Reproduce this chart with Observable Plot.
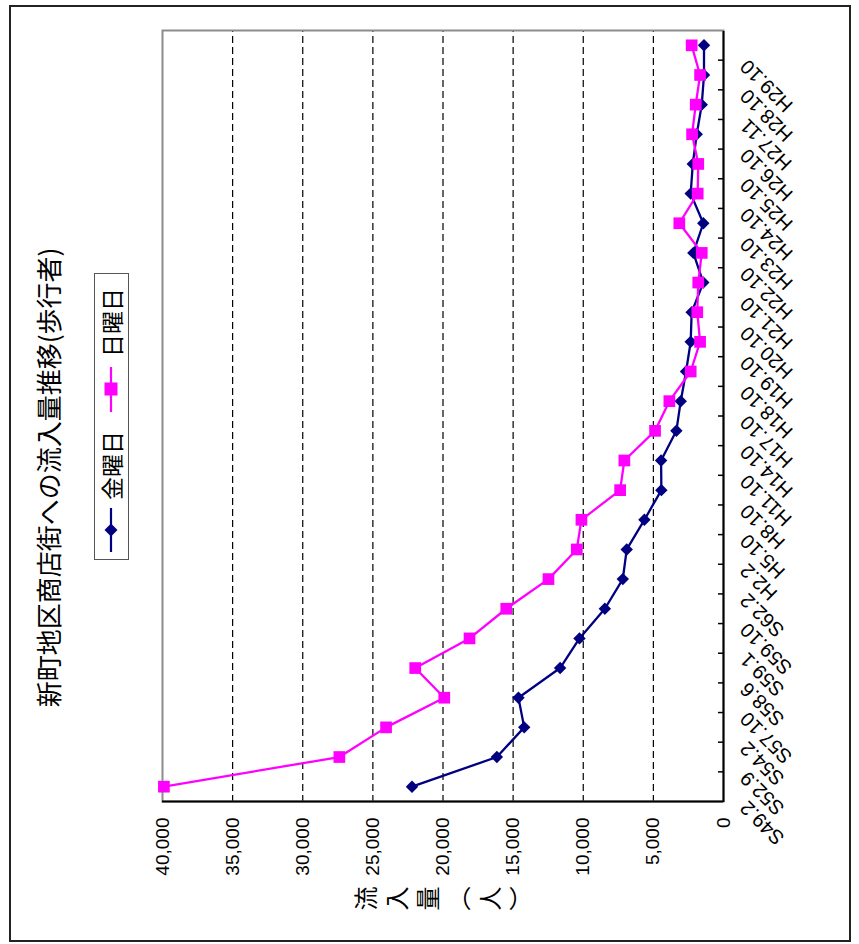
<!DOCTYPE html>
<html>
<head>
<meta charset="utf-8">
<script src="https://cdn.jsdelivr.net/npm/d3@7"></script>
<script src="https://cdn.jsdelivr.net/npm/@observablehq/plot@0.6"></script>
<style>
html, body { margin: 0; padding: 0; overflow: hidden; background: #fff; width: 859px; height: 944px; }
#stage { position: absolute; left: 0; top: 0; width: 944px; height: 859px; transform-origin: 0 0;
  transform: translate(0px, 944px) rotate(-90deg); background: #fff; color: #000;
  font-family: "Liberation Sans", "Noto Sans CJK JP", sans-serif; }
#chart { position: absolute; left: 0; top: 0; }
#border { position: absolute; left: 2px; top: 9px; width: 937px; height: 842px; box-sizing: border-box; border: 2px solid #222; pointer-events: none; }
#title { position: absolute; left: 0; top: 35px; width: 933px; text-align: center; font: 26px "Noto Sans CJK JP", sans-serif; line-height: 1; white-space: nowrap; }
#legend { position: absolute; left: 384px; top: 94px; width: 287px; height: 35px; box-sizing: border-box; border: 1px solid #555; background: #fff; font: 23px "Noto Sans CJK JP", sans-serif; }
#legend .item { position: absolute; top: 0; height: 33px; line-height: 33px; white-space: nowrap; }
#legend svg { position: absolute; top: 6px; }
#ytitle { position: absolute; left: 33px; top: 354px; writing-mode: vertical-rl; font: 24px "Noto Sans CJK JP", sans-serif; letter-spacing: 7px; line-height: 1; white-space: nowrap; }
</style>
</head>
<body>
<div id="stage">
  <div id="chart"></div>
  <div id="border"></div>
  <div id="title"></div>
  <div id="legend"></div>
  <div id="ytitle"></div>
</div>
<script>
// ---- data ----
const categories = ["S49.2","S52.9","S54.2","S57.10","S58.6","S59.1","S59.10","S62.2","H2.2","H5.10","H8.10","H11.10","H14.10","H17.10","H18.10","H19.10","H20.10","H21.10","H22.10","H23.10","H24.10","H25.10","H26.10","H27.11","H28.10","H29.10"];
const friday = [22210,16160,14210,14620,11650,10270,8460,7180,6900,5640,4430,4450,3360,3050,2670,2340,2270,1440,2150,1440,2340,2190,1910,1550,1390,1390];
const sunday = [39900,27390,24060,19910,21980,18110,15490,12480,10460,10130,7370,7070,4880,3860,2340,1670,1870,1800,1550,3150,1840,1800,2240,1980,1670,2270];
const seriesNames = ["金曜日","日曜日"];
const seriesColors = ["#000080","#FF00FF"];
const valueTicks = [0,5000,10000,15000,20000,25000,30000,35000,40000];
const gridValues = [5000,10000,15000,20000,25000,30000,35000];
const titleText = "新町地区商店街への流入量推移(歩行者)";
const yTitleText = "流入量（人）";

// ---- layout (landscape, rotated afterwards) ----
const W = 944, H = 859, ml = 142, mr = 31, mt = 162, mb = 136;
const step = (W - ml - mr) / categories.length;

const fridayData = categories.map((c, i) => ({cat: c, value: friday[i]}));
const sundayData = categories.map((c, i) => ({cat: c, value: sunday[i]}));

const chart = Plot.plot({
  width: W, height: H,
  marginLeft: ml, marginRight: mr, marginTop: mt, marginBottom: mb,
  style: {background: "transparent", fontFamily: "'Liberation Sans', 'Noto Sans CJK JP', sans-serif", fontSize: "19px", color: "#000", overflow: "visible"},
  x: {type: "point", domain: categories, padding: 0.5, round: false, axis: null},
  y: {domain: [0, 40000], axis: null},
  marks: [
    Plot.ruleY(gridValues, {stroke: "#000", strokeWidth: 1.2, strokeDasharray: "7,4"}),
    Plot.frame({stroke: "#8c8c8c", strokeWidth: 2}),
    Plot.ruleY([0], {stroke: "#000", strokeWidth: 2}),
    Plot.ruleX([categories[0]], {dx: -step / 2, stroke: "#000", strokeWidth: 2}),
    Plot.ruleX(categories.slice(1), {dx: -step / 2, insetTop: H - mt - mb - 5, stroke: "#000", strokeWidth: 1.5}),
    Plot.axisY({ticks: valueTicks, tickSize: 0, tickPadding: 16, tickFormat: d3.format(","), fontSize: 19, label: null}),
    Plot.text(categories, {x: d => d, frameAnchor: "bottom", rotate: -45, textAnchor: "end", dx: -13, dy: 25, fontSize: 20, fill: "#000"}),
    Plot.line(fridayData, {x: "cat", y: "value", stroke: seriesColors[0], strokeWidth: 2.3}),
    Plot.dot(fridayData, {x: "cat", y: "value", symbol: "diamond2", r: 5.6, fill: seriesColors[0], stroke: "none"}),
    Plot.line(sundayData, {x: "cat", y: "value", stroke: seriesColors[1], strokeWidth: 2.3}),
    Plot.dot(sundayData, {x: "cat", y: "value", symbol: "square", r: 6.6, fill: seriesColors[1], stroke: "none"})
  ]
});
document.getElementById("chart").appendChild(chart);

document.getElementById("title").textContent = titleText;
document.getElementById("ytitle").textContent = yTitleText;

// legend
const legend = document.getElementById("legend");
const swatches = [
  `<svg width="44" height="20" viewBox="0 0 44 20"><line x1="0" y1="10" x2="44" y2="10" stroke="${seriesColors[0]}" stroke-width="2.2"/><path d="M22,3.5L28.5,10L22,16.5L15.5,10Z" fill="${seriesColors[0]}"/></svg>`,
  `<svg width="45" height="20" viewBox="0 0 45 20"><line x1="0" y1="10" x2="45" y2="10" stroke="${seriesColors[1]}" stroke-width="2.2"/><rect x="16.5" y="3.5" width="13" height="13" fill="${seriesColors[1]}"/></svg>`
];
const swLeft = [7, 147], txLeft = [59, 202];
seriesNames.forEach((name, i) => {
  const s = document.createElement("div");
  s.className = "item"; s.style.left = swLeft[i] + "px"; s.innerHTML = swatches[i];
  legend.appendChild(s);
  const t = document.createElement("div");
  t.className = "item"; t.style.left = txLeft[i] + "px"; t.textContent = name;
  legend.appendChild(t);
});
</script>
</body>
</html>
